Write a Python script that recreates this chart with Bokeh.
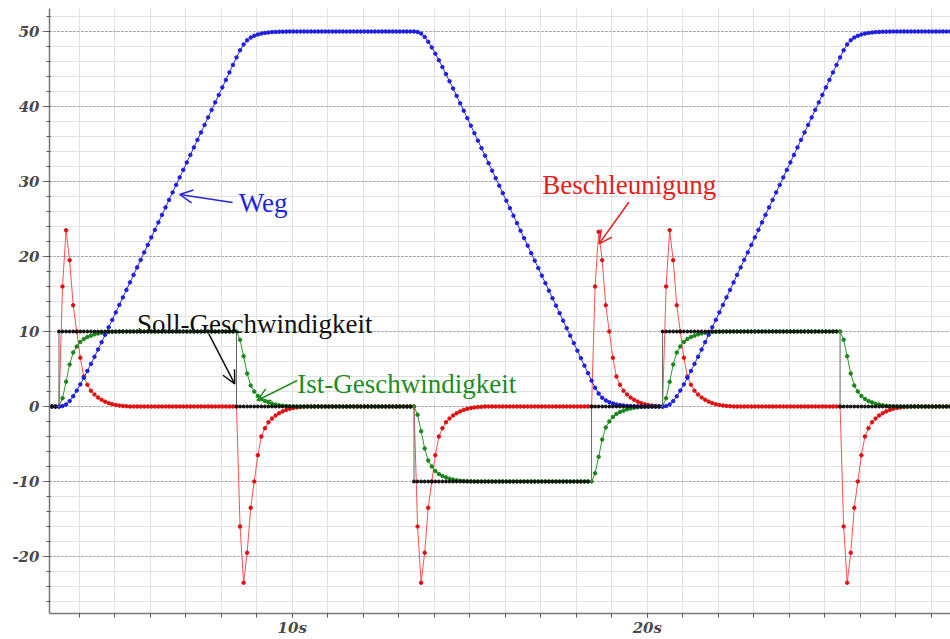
import numpy as np
from bokeh.plotting import figure
from bokeh.models import FixedTicker, Range1d, Arrow, OpenHead, Label
from bokeh.embed import file_html
from bokeh.resources import INLINE

# ---------------- data ----------------
t_start = 3.03          # first sample time [s]
dt = 0.1                # sampling step [s]
n_samples = 257
time_s = np.round(t_start + dt * np.arange(n_samples), 2)

# velocity transients (0.1 s samples after each set-point step)
vel_up = [0, 1.1, 3.3, 5.6, 7.2, 8.0, 8.6, 9.0, 9.27, 9.45, 9.62, 9.74, 9.84, 9.9, 9.94, 9.96, 9.98, 9.99, 10, 10, 10]
vel_down = [10, 8.9, 6.7, 4.4, 2.8, 2.0, 1.4, 1.0, 0.73, 0.55, 0.38, 0.26, 0.16, 0.1, 0.06, 0.04, 0.02, 0.01, 0, 0, 0]
vel_neg = [0, -1.1, -3.3, -5.6, -7.2, -8.0, -8.6, -9.0, -9.27, -9.45, -9.62, -9.74, -9.84, -9.9, -9.94, -9.96, -9.98, -9.99, -10, -10, -10]
vel_back = [-10, -8.9, -6.7, -4.4, -2.8, -2.0, -1.4, -1.0, -0.73, -0.55, -0.38, -0.26, -0.16, -0.1, -0.06, -0.04, -0.02, -0.01, 0, 0]

# acceleration transients
acc_pos = [0, 16, 23.5, 19.5, 13.5, 10.0, 6.5, 4.0, 2.9, 2.1, 1.6, 1.2, 0.9, 0.65, 0.45, 0.3, 0.2, 0.12, 0.07, 0.04, 0]
acc_neg = [0, -16, -23.5, -19.5, -13.5, -10.0, -6.5, -4.0, -2.9, -2.1, -1.6, -1.2, -0.9, -0.65, -0.45, -0.3, -0.2, -0.12, -0.07, -0.04, 0]
acc_back = [0, 16, 23.3, 19.5, 13.5, 10.0, 6.5, 4.0, 2.9, 2.1, 1.6, 1.2, 0.9, 0.65, 0.45, 0.3, 0.2, 0.12, 0.07, 0.04]

# position segments
weg_start = [0, 0.055, 0.275, 0.72, 1.36, 2.12, 2.95, 3.83, 4.74, 5.68, 6.63, 7.60, 8.58, 9.57, 10.56,
             11.55, 12.55, 13.55, 14.55, 15.55, 16.55]
weg_ramp_up = [17.55, 18.55, 19.55, 20.55, 21.55, 22.55, 23.55, 24.55, 25.55, 26.55, 27.55, 28.55, 29.55,
               30.55, 31.55, 32.55, 33.55, 34.55, 35.55, 36.55, 37.55, 38.55, 39.55, 40.55, 41.55, 42.55,
               43.55, 44.55, 45.55]
weg_top = [46.55, 47.50, 48.28, 48.83, 49.19, 49.43, 49.60, 49.72, 49.81, 49.87, 49.92, 49.95, 49.97, 49.98,
           49.99, 50, 50, 50, 50, 50, 50]
weg_leave = [50, 49.945, 49.725, 49.28, 48.64, 47.88, 47.05, 46.17, 45.26, 44.32, 43.37, 42.40, 41.42, 40.43,
             39.44, 38.45, 37.45, 36.45, 35.45, 34.45, 33.45]
weg_ramp_down = [32.45, 31.45, 30.45, 29.45, 28.45, 27.45, 26.45, 25.45, 24.45, 23.45, 22.45, 21.45, 20.45,
                 19.45, 18.45, 17.45, 16.45, 15.45, 14.45, 13.45, 12.45, 11.45, 10.45, 9.45, 8.45, 7.45,
                 6.45, 5.45, 4.45]
weg_bottom = [3.45, 2.50, 1.72, 1.17, 0.81, 0.57, 0.40, 0.28, 0.19, 0.13, 0.08, 0.05, 0.03, 0.02, 0.01,
              0, 0, 0, 0, 0]

soll = [0] * 4 + [10] * 50 + [0] * 50 + [-10] * 50 + [0] * 20 + [10] * 50 + [0] * 33
ist = ([0] * 4 + vel_up + [10] * 29 + vel_down + [0] * 29 + vel_neg + [-10] * 29 + vel_back
       + vel_up + [10] * 29 + vel_down + [0] * 12)
beschl = ([0] * 4 + acc_pos + [0] * 29 + acc_neg + [0] * 29 + acc_neg + [0] * 29 + acc_back
          + acc_pos + [0] * 29 + acc_neg + [0] * 12)
weg = ([0] * 4 + weg_start + weg_ramp_up + weg_top + [50] * 29 + weg_leave + weg_ramp_down + weg_bottom
       + weg_start + weg_ramp_up + weg_top + [50] * 12)

y_ticks = [-20, -10, 0, 10, 20, 30, 40, 50]
y_tick_labels = {-20: "-20", -10: "-10"}
y_minor_ticks = list(range(-26, 53, 2))
x_ticks = [10, 20]
x_minor_ticks = list(range(4, 29))
x_tick_labels = {10: "10s", 20: "20s"}

# ---------------- figure ----------------
p = figure(width=950, height=639, output_backend="svg", toolbar_location=None,
           x_range=Range1d(3.163, 28.54), y_range=Range1d(-27.6, 53.07),
           min_border_left=49, min_border_right=0, min_border_top=8, min_border_bottom=26)
p.outline_line_color = None
p.background_fill_color = "white"

p.xaxis.ticker = FixedTicker(ticks=x_ticks, minor_ticks=x_minor_ticks)
p.yaxis.ticker = FixedTicker(ticks=y_ticks, minor_ticks=y_minor_ticks)
p.xaxis.major_label_overrides = x_tick_labels
p.yaxis.major_label_overrides = y_tick_labels

for ax in (p.xaxis[0], p.yaxis[0]):
    ax.axis_line_color = "#7a7a7a"
    ax.axis_line_width = 1.5
    ax.major_tick_line_color = "#7a7a7a"
    ax.minor_tick_line_color = "#555555"
    ax.major_label_text_font = "DejaVu Serif"
    ax.major_label_text_font_style = "bold italic"
    ax.major_label_text_font_size = "15px"
    ax.major_label_text_color = "#4a4a4a"

p.xaxis.major_tick_in = 0
p.xaxis.major_tick_out = 4
p.xaxis.minor_tick_in = 0
p.xaxis.minor_tick_out = 4
p.xaxis.major_label_standoff = 1

p.yaxis.major_tick_in = 0
p.yaxis.major_tick_out = 7
p.yaxis.minor_tick_in = 1
p.yaxis.minor_tick_out = 3
p.yaxis.major_label_standoff = 3

p.xgrid.grid_line_color = "#e2e2e2"
p.xgrid.minor_grid_line_color = "#e2e2e2"
p.ygrid.grid_line_color = "#9a9a9a"
p.ygrid.grid_line_dash = "2 2"
p.ygrid.minor_grid_line_color = "#e2e2e2"

# series
p.line(time_s, beschl, line_color="#ff5050", line_width=1)
p.scatter(time_s, beschl, size=3.5, color="#e01010")

p.line(time_s, ist, line_color="#2a9a2a", line_width=1)
p.scatter(time_s, ist, size=3.5, color="#1a861a")

p.line(time_s, weg, line_color="#3030ff", line_width=1)
p.scatter(time_s, weg, size=3.5, color="#1e1ee0")

p.step(time_s, soll, mode="after", line_color="#666666", line_width=1)
p.scatter(time_s, soll, size=3, color="#111111")

# annotations
font = "Liberation Serif"
fsize = "27px"
labels = [
    ("Weg", 8.49, 27.1, "#2424e0"),
    ("Beschleunigung", 17.04, 29.5, "#e81c1c"),
    ("Soll-Geschwindigkeit", 5.63, 11.0, "#111111"),
    ("Ist-Geschwindigkeit", 10.14, 3.0, "#238c23"),
]
for txt, lx, ly, col in labels:
    p.add_layout(Label(x=lx, y=ly, text=txt, text_font=font, text_font_size=fsize,
                       text_color=col, text_baseline="alphabetic", text_align="left"))

arrows = [
    (8.32, 27.2, 6.83, 28.27, "#2424e0"),
    (19.48, 27.24, 18.64, 21.69, "#e81c1c"),
    (7.65, 9.69, 8.38, 3.03, "#111111"),
    (10.14, 3.47, 9.01, 0.8, "#238c23"),
]
for xs, ys, xe, ye, col in arrows:
    p.add_layout(Arrow(end=OpenHead(size=13, line_color=col, line_width=1.5),
                       x_start=xs, y_start=ys, x_end=xe, y_end=ye,
                       line_color=col, line_width=1.5))

open("out.html", "w").write(file_html(p, INLINE))
